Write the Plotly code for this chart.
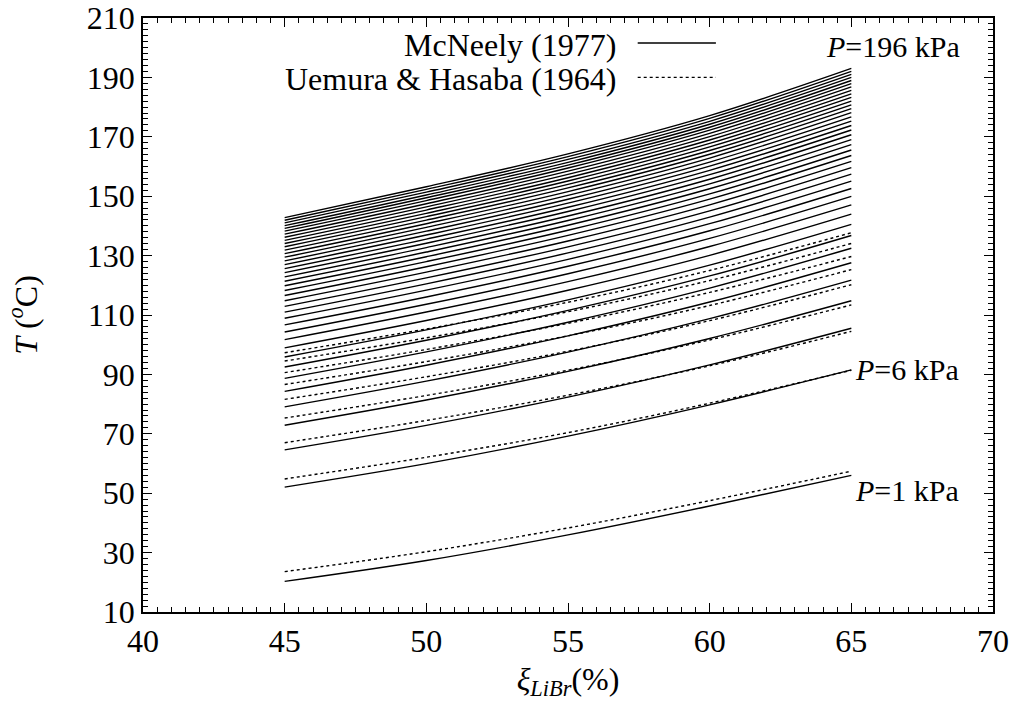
import plotly.graph_objects as go

# LiBr mass fraction (%) at which curves are sampled
xi = [45, 50, 55, 60, 65]

# McNeely (1977) curves, P = 1, 6, 11, ..., 196 kPa (T in degC at each xi)
pressures_mcneely = [1, 6, 11, 16, 21, 26, 31, 36, 41, 46, 51, 56, 61, 66, 71, 76, 81, 86, 91, 96,
                     101, 106, 111, 116, 121, 126, 131, 136, 141, 146, 151, 156, 161, 166, 171,
                     176, 181, 186, 191, 196]
T_mcneely = [
    [20.30, 27.33, 35.95, 45.68, 56.00],
    [52.06, 59.96, 69.22, 79.76, 91.52],
    [64.60, 72.85, 82.35, 93.22, 105.55],
    [72.88, 81.36, 91.03, 102.10, 114.81],
    [79.08, 87.73, 97.52, 108.76, 121.75],
    [84.30, 93.10, 102.99, 114.36, 127.59],
    [88.66, 97.58, 107.56, 119.05, 132.47],
    [92.49, 101.52, 111.57, 123.16, 136.76],
    [95.87, 104.98, 115.10, 126.78, 140.53],
    [98.94, 108.15, 118.33, 130.08, 143.97],
    [101.71, 110.99, 121.22, 133.05, 147.06],
    [104.26, 113.61, 123.90, 135.79, 149.92],
    [106.66, 116.07, 126.41, 138.36, 152.60],
    [108.89, 118.36, 128.74, 140.75, 155.10],
    [110.95, 120.49, 130.91, 142.97, 157.41],
    [112.91, 122.50, 132.96, 145.07, 159.60],
    [114.79, 124.43, 134.93, 147.09, 161.70],
    [116.57, 126.26, 136.79, 148.99, 163.69],
    [118.24, 127.98, 138.54, 150.79, 165.56],
    [119.85, 129.63, 140.23, 152.52, 167.36],
    [121.38, 131.20, 141.83, 154.16, 169.07],
    [122.83, 132.70, 143.35, 155.72, 170.70],
    [124.27, 134.17, 144.86, 157.26, 172.30],
    [125.62, 135.56, 146.27, 158.71, 173.81],
    [126.95, 136.92, 147.66, 160.13, 175.30],
    [128.22, 138.23, 148.99, 161.50, 176.72],
    [129.47, 139.51, 150.30, 162.84, 178.12],
    [130.67, 140.74, 151.56, 164.13, 179.46],
    [131.84, 141.95, 152.79, 165.39, 180.77],
    [132.96, 143.10, 153.96, 166.59, 182.03],
    [134.07, 144.24, 155.12, 167.78, 183.27],
    [135.13, 145.33, 156.23, 168.91, 184.45],
    [136.18, 146.41, 157.33, 170.05, 185.63],
    [137.22, 147.47, 158.42, 171.16, 186.78],
    [138.23, 148.51, 159.48, 172.24, 187.91],
    [139.15, 149.46, 160.45, 173.23, 188.95],
    [140.08, 150.41, 161.41, 174.23, 189.98],
    [141.00, 151.36, 162.38, 175.22, 191.02],
    [141.91, 152.30, 163.34, 176.20, 192.04],
    [142.78, 153.20, 164.25, 177.13, 193.01],
]

# Uemura & Hasaba (1964) curves, P = 1 ... 41 kPa
pressures_uemura = [1, 6, 11, 16, 21, 26, 31, 36, 41]
T_uemura = [
    [23.6, 30.3, 38.3, 47.5, 57.4],
    [54.8, 62.1, 70.4, 80.3, 91.4],
    [67.0, 74.5, 83.0, 92.9, 104.5],
    [75.3, 82.9, 91.4, 101.6, 113.4],
    [81.6, 89.2, 97.8, 108.1, 120.2],
    [86.6, 94.3, 103.0, 113.2, 125.3],
    [90.6, 98.4, 107.2, 117.6, 129.7],
    [94.5, 102.3, 111.1, 121.6, 134.1],
    [97.3, 105.3, 114.3, 125.0, 137.7],
]

x_ticks = [40, 45, 50, 55, 60, 65, 70]
y_ticks = [10, 30, 50, 70, 90, 110, 130, 150, 170, 190, 210]

FONT = "Liberation Serif"
FS = 32

fig = go.Figure()
for p, T in zip(pressures_uemura, T_uemura):
    fig.add_trace(go.Scatter(x=xi, y=T, mode="lines", name=f"U&H {p} kPa",
                             line=dict(color="black", width=1.4, dash="dot", shape="spline"),
                             showlegend=False, hoverinfo="skip"))
for p, T in zip(pressures_mcneely, T_mcneely):
    fig.add_trace(go.Scatter(x=xi, y=T, mode="lines", name=f"McNeely {p} kPa",
                             line=dict(color="black", width=1.4, shape="spline"),
                             showlegend=False, hoverinfo="skip"))

axis_common = dict(showgrid=False, zeroline=False, showline=True, linecolor="black",
                   linewidth=1.5, mirror="allticks", ticks="inside", tickcolor="black",
                   tickwidth=1, ticklen=9, automargin=False,
                   tickfont=dict(family=FONT, size=FS, color="black"))

fig.update_xaxes(range=[40, 70], tickvals=x_ticks, ticktext=[str(v) for v in x_ticks],
                 minor=dict(dtick=0.5, ticks="inside", ticklen=5, tickcolor="black", tickwidth=1),
                 title=dict(text="<i>ξ</i><sub><i>LiBr</i></sub>(%)",
                            font=dict(family=FONT, size=FS, color="black"), standoff=9),
                 **axis_common)
fig.update_yaxes(range=[10, 210], tickvals=y_ticks, ticktext=[str(v) for v in y_ticks],
                 minor=dict(dtick=2, ticks="inside", ticklen=5, tickcolor="black", tickwidth=1),
                 title=dict(text="<i>T</i> (<sup><i>o</i></sup>C)",
                            font=dict(family=FONT, size=FS, color="black"), standoff=40),
                 **axis_common)

# pressure labels
fig.add_annotation(x=64.05, y=200.5, text="<i>P</i>=196 kPa", showarrow=False,
                   xanchor="left", yanchor="middle", font=dict(family=FONT, size=30, color="black"))
fig.add_annotation(x=65.05, y=91.8, text="<i>P</i>=6 kPa", showarrow=False,
                   xanchor="left", yanchor="middle", font=dict(family=FONT, size=30, color="black"))
fig.add_annotation(x=65.05, y=51.0, text="<i>P</i>=1 kPa", showarrow=False,
                   xanchor="left", yanchor="middle", font=dict(family=FONT, size=30, color="black"))

# key (text then line sample, gnuplot style)
fig.add_annotation(xref="paper", yref="paper", x=0.559, y=0.955, text="McNeely (1977)",
                   showarrow=False, xanchor="right", yanchor="middle",
                   font=dict(family=FONT, size=FS, color="black"))
fig.add_annotation(xref="paper", yref="paper", x=0.559, y=0.897, text="Uemura &amp; Hasaba (1964)",
                   showarrow=False, xanchor="right", yanchor="middle",
                   font=dict(family=FONT, size=FS, color="black"))
fig.add_shape(type="line", xref="paper", yref="paper", x0=0.582, x1=0.674, y0=0.958, y1=0.958,
              line=dict(color="black", width=1.4))
fig.add_shape(type="line", xref="paper", yref="paper", x0=0.582, x1=0.674, y0=0.900, y1=0.900,
              line=dict(color="black", width=1.4, dash="dot"))

fig.update_layout(width=1018, height=706, plot_bgcolor="white", paper_bgcolor="white",
                  margin=dict(l=143, r=25, t=18, b=94, autoexpand=False), showlegend=False,
                  font=dict(family=FONT, size=FS, color="black"))

fig.write_html("out.html")
